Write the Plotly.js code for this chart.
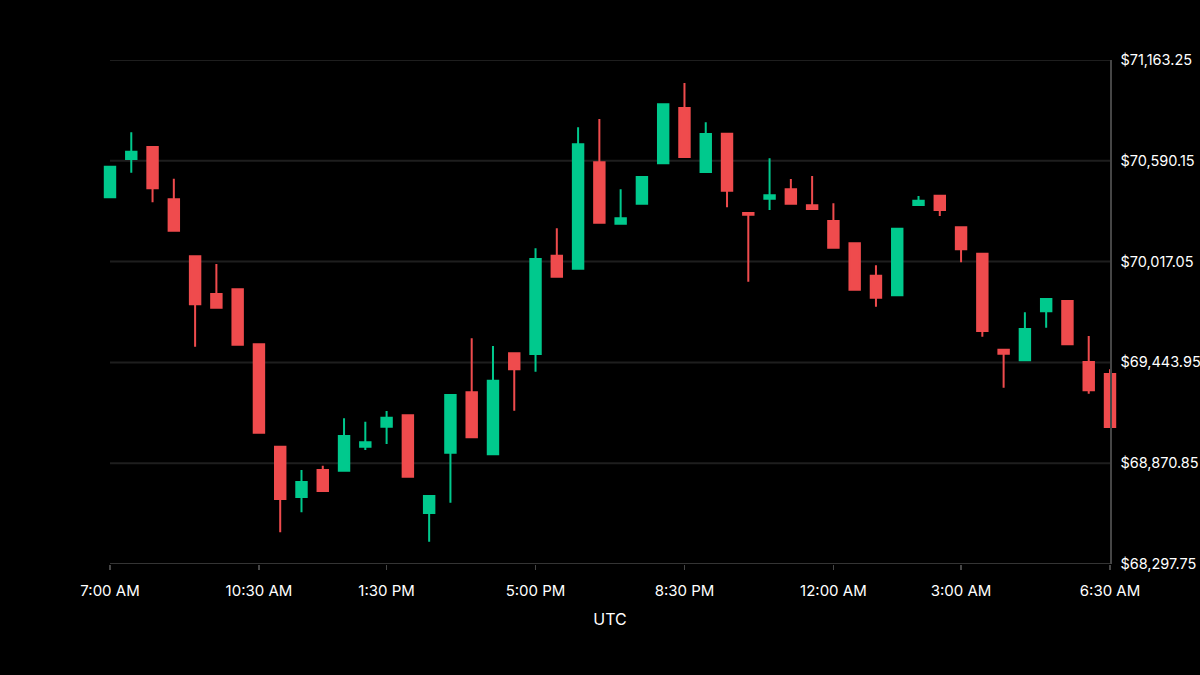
<!DOCTYPE html>
<html>
<head>
<meta charset="utf-8">
<script src="https://cdn.plot.ly/plotly-3.0.1.min.js"></script>
<style>
  html, body { margin: 0; padding: 0; background: #000; }
  #chart { width: 1200px; height: 675px; }
</style>
</head>
<body>
<div id="chart"></div>
<script>
// 30-minute candles, UTC
const times = [
  '2024-04-09 07:00','2024-04-09 07:30','2024-04-09 08:00','2024-04-09 08:30',
  '2024-04-09 09:00','2024-04-09 09:30','2024-04-09 10:00','2024-04-09 10:30',
  '2024-04-09 11:00','2024-04-09 11:30','2024-04-09 12:00','2024-04-09 12:30',
  '2024-04-09 13:00','2024-04-09 13:30','2024-04-09 14:00','2024-04-09 14:30',
  '2024-04-09 15:00','2024-04-09 15:30','2024-04-09 16:00','2024-04-09 16:30',
  '2024-04-09 17:00','2024-04-09 17:30','2024-04-09 18:00','2024-04-09 18:30',
  '2024-04-09 19:00','2024-04-09 19:30','2024-04-09 20:00','2024-04-09 20:30',
  '2024-04-09 21:00','2024-04-09 21:30','2024-04-09 22:00','2024-04-09 22:30',
  '2024-04-09 23:00','2024-04-09 23:30','2024-04-10 00:00','2024-04-10 00:30',
  '2024-04-10 01:00','2024-04-10 01:30','2024-04-10 02:00','2024-04-10 02:30',
  '2024-04-10 03:00','2024-04-10 03:30','2024-04-10 04:00','2024-04-10 04:30',
  '2024-04-10 05:00','2024-04-10 05:30','2024-04-10 06:00','2024-04-10 06:30'
];

const openP = [
  70382.6, 70600.4, 70668.6, 70371.3, 70047.2, 69832.8, 69859.6, 69546.9,
  68964.7, 68678.7, 68832.2, 68828.2, 68964.7, 69078.4, 69143.2, 68587.7,
  68930.6, 69274.0, 68921.5, 69495.7, 69491.7, 70050.6, 69976.7, 70581.6,
  70232.5, 70346.3, 70575.9, 70890.4, 70526.5, 70744.2, 70293.4, 70374.7,
  70428.1, 70337.2, 70247.9, 70121.1, 69936.9, 69825.4, 70338.9, 70391.7,
  70212.1, 70062.0, 69516.2, 69455.9, 69734.5, 69793.1, 69446.3, 69378.0
];
const highP = [
  70556.6, 70752.2, 70668.6, 70488.4, 70047.2, 70003.4, 69859.6, 69546.9,
  68964.7, 68832.2, 68856.6, 69126.1, 69106.8, 69167.6, 69143.2, 68684.4,
  69258.6, 69581.0, 69537.2, 69495.7, 70092.7, 70206.4, 70780.6, 70827.8,
  70428.1, 70498.0, 70911.4, 71032.5, 70809.0, 70744.2, 70293.4, 70604.4,
  70486.7, 70503.7, 70348.5, 70121.1, 69996.0, 70204.1, 70390.0, 70391.7,
  70212.1, 70062.0, 69516.2, 69728.8, 69804.5, 69793.1, 69594.1, 69404.7
];
const lowP = [
  70382.6, 70522.5, 70354.2, 70192.7, 69533.2, 69755.0, 69544.6, 69044.3,
  68478.0, 68591.7, 68712.8, 68828.2, 68945.9, 68980.0, 68794.1, 68424.6,
  68646.3, 69018.1, 68921.5, 69169.4, 69391.1, 69931.2, 69976.7, 70238.2,
  70232.5, 70346.3, 70575.9, 70611.8, 70526.5, 70325.8, 69902.8, 70310.4,
  70346.3, 70316.1, 70096.1, 69857.3, 69760.6, 69825.4, 70338.9, 70276.3,
  70013.1, 69590.1, 69300.1, 69455.9, 69641.2, 69546.9, 69266.0, 69076.7
];
const closeP = [
  70556.6, 70641.9, 70433.8, 70192.7, 69774.3, 69755.0, 69544.6, 69044.3,
  68667.4, 68764.0, 68712.8, 69025.5, 68989.7, 69129.5, 68794.1, 68684.4,
  69258.6, 69018.1, 69339.9, 69404.7, 70031.8, 69931.2, 70684.0, 70238.2,
  70263.2, 70498.0, 70911.4, 70611.8, 70742.5, 70420.2, 70283.7, 70394.0,
  70346.3, 70316.1, 70096.1, 69857.3, 69811.8, 70204.1, 70363.3, 70310.4,
  70087.0, 69622.5, 69493.4, 69633.9, 69804.5, 69546.9, 69285.4, 69076.7
];

const xTickVals = ['2024-04-09 07:00','2024-04-09 10:30','2024-04-09 13:30','2024-04-09 17:00',
                   '2024-04-09 20:30','2024-04-10 00:00','2024-04-10 03:00','2024-04-10 06:30'];
const xTickText = ['7:00 AM','10:30 AM','1:30 PM','5:00 PM','8:30 PM','12:00 AM','3:00 AM','6:30 AM'];

const yTickVals = [68297.75, 68870.85, 69443.95, 70017.05, 70590.15, 71163.25];
const yTickText = ['$68,297.75','$68,870.85','$69,443.95','$70,017.05','$70,590.15','$71,163.25'];

const GREEN = '#00C98D';
const RED = '#EF4B4D';
const GRID = '#1e1e1e';
const AXIS = '#464646';
const FONT = 'Inter, "Noto Sans", "DejaVu Sans", sans-serif';

const trace = {
  type: 'candlestick',
  x: times,
  open: openP, high: highP, low: lowP, close: closeP,
  increasing: { line: { color: GREEN, width: 2 }, fillcolor: GREEN },
  decreasing: { line: { color: RED, width: 2 }, fillcolor: RED },
  hoverinfo: 'skip',
  showlegend: false
};

// Gridlines and bottom axis line span only the first..last candle
const shapes = yTickVals.slice(1).map(v => ({
  type: 'line', xref: 'x', yref: 'y', layer: 'below',
  x0: times[0], x1: times[times.length - 1], y0: v, y1: v,
  line: { color: GRID, width: 2 }
}));
shapes.push({
  type: 'line', xref: 'x', yref: 'y', layer: 'above',
  x0: times[0], x1: times[times.length - 1], y0: yTickVals[0], y1: yTickVals[0],
  line: { color: AXIS, width: 1.5 }
});

const layout = {
  width: 1200, height: 675,
  paper_bgcolor: '#000', plot_bgcolor: '#000',
  margin: { l: 98, r: 78, t: 60, b: 111 },
  font: { family: FONT, color: '#fff', size: 15 },
  showlegend: false,
  xaxis: {
    type: 'date',
    range: ['2024-04-09 06:43:04.8', '2024-04-10 06:46:55.2'],
    rangeslider: { visible: false },
    showgrid: false, zeroline: false, showline: false,
    tickmode: 'array', tickvals: xTickVals, ticktext: xTickText,
    ticks: 'outside', ticklen: 5, tickwidth: 1.5, tickcolor: AXIS,
    ticklabelstandoff: 8,
    tickfont: { family: FONT, color: '#fff', size: 15 },
    title: { text: 'UTC', font: { family: FONT, color: '#fff', size: 16 }, standoff: 14 },
    fixedrange: true
  },
  yaxis: {
    range: [yTickVals[0], yTickVals[yTickVals.length - 1]],
    side: 'right', anchor: 'free', position: 1012 / 1024,
    showgrid: false, zeroline: false,
    showline: true, linecolor: AXIS, linewidth: 1.5,
    tickmode: 'array', tickvals: yTickVals, ticktext: yTickText,
    ticks: '', ticklabelstandoff: 6,
    tickfont: { family: FONT, color: '#fff', size: 14.5 },
    fixedrange: true
  },
  shapes: shapes
};

Plotly.newPlot('chart', [trace], layout, { displayModeBar: false, staticPlot: true });
</script>
</body>
</html>
